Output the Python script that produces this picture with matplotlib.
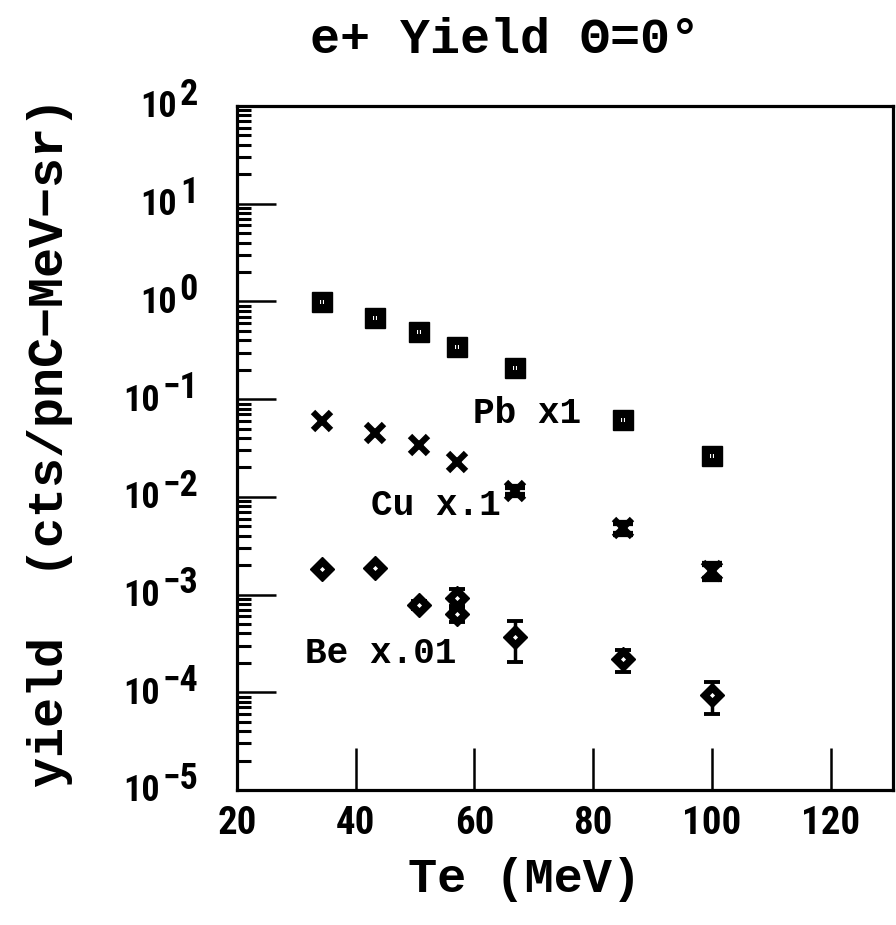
import numpy as np
import matplotlib
matplotlib.use("Agg")
import matplotlib.pyplot as plt
import matplotlib.font_manager as fm
import matplotlib.transforms as mtransforms
from matplotlib.ticker import LogLocator, NullFormatter

# data (yields already scaled as labelled)
te = [34.3, 43.3, 50.7, 57.0, 66.8, 85.1, 100.1]
pb = [0.98, 0.68, 0.49, 0.34, 0.21, 0.061, 0.026]
pb_err = [0.03, 0.02, 0.015, 0.01, 0.007, 0.002, 0.001]
cu = [0.060, 0.045, 0.034, 0.0225, 0.0115, 0.0048, 0.00175]
cu_err = [np.nan, np.nan, np.nan, np.nan, 0.0011, 0.0006, 0.00030]
be_te = [34.3, 43.3, 50.7, 57.0, 57.0, 66.8, 85.1, 100.1]
be = [0.00181, 0.00188, 0.00079, 0.00093, 0.00064, 0.00037, 0.000217, 0.000094]
be_err = [0.0001, 0.0001, 0.00008, 0.0002, 0.00012, 0.000165, 0.000055, 0.000034]

x_ticks = [20, 40, 60, 80, 100, 120]
y_exps = [-5, -4, -3, -2, -1, 0, 1, 2]

names = {f.name for f in fm.fontManager.ttflist}
narrow = "Liberation Sans"
stretch = "normal"
for cand in ["Liberation Sans Narrow", "Roboto Condensed", "Open Sans Condensed"]:
    if cand in names:
        narrow = cand
        break
else:
    if any(f.name == "DejaVu Sans" and f.stretch == "condensed" and f.weight in (700, "bold")
           for f in fm.fontManager.ttflist):
        narrow = "DejaVu Sans"
        stretch = "condensed"
mono = ["Liberation Mono", "DejaVu Sans Mono"]

fig = plt.figure(figsize=(8.96, 9.25), dpi=100)
ax = fig.add_axes([0.2645, 0.1459, 0.7321, 0.7395])

ax.set_yscale("log")
ax.set_xlim(20, 130.5)
ax.set_ylim(1e-5, 1e2)

# Pb squares
ax.errorbar(te, pb, yerr=pb_err, fmt="s", ms=14.5, mfc="k", mec="k", ecolor="k",
            elinewidth=2, capsize=5, capthick=2, zorder=3)
ax.plot(te, pb, ls="none", marker="s", ms=3.2, mfc="white", mew=0, zorder=4)
ax.plot(te, pb, ls="none", marker="|", ms=4, mec="k", mew=1.3, zorder=5)

# Cu crosses
ax.errorbar(te, cu, yerr=cu_err, fmt="x", ms=13, mew=4.5, color="k",
            elinewidth=2, capsize=7, capthick=3, zorder=3)

# Be diamonds
ax.errorbar(be_te, be, yerr=be_err, fmt="D", ms=12, color="k",
            elinewidth=2.5, capsize=6, capthick=2.8, zorder=3)
ax.plot(be_te, be, ls="none", marker="D", ms=2.6, mfc="white", mew=0, zorder=4)

ann_kw = dict(fontfamily=mono, fontweight="bold", fontsize=26, va="center", ha="left")
ax.text(59.8, 0.0715, "Pb x1", **ann_kw)
ax.text(42.5, 0.0082, "Cu x.1", **ann_kw)
ax.text(31.4, 2.5e-4, "Be x.01", **ann_kw)

for s in ax.spines.values():
    s.set_linewidth(2.3)

ax.set_xticks(x_ticks)
ax.set_xticklabels([str(t) for t in x_ticks], fontfamily=narrow, fontstretch=stretch,
                   fontweight="bold", fontsize=28)
ax.tick_params(axis="x", which="major", direction="in", length=30, width=1.8, pad=11)
ax.tick_params(axis="x", which="minor", length=0)

ax.yaxis.set_major_locator(LogLocator(base=10, numticks=20))
ax.yaxis.set_minor_locator(LogLocator(base=10, subs=np.arange(2, 10), numticks=20))
ax.yaxis.set_major_formatter(NullFormatter())
ax.yaxis.set_minor_formatter(NullFormatter())
ax.tick_params(axis="y", which="major", direction="in", length=28, width=1.8)
ax.tick_params(axis="y", which="minor", direction="in", length=10, width=2.2)

# y tick labels: "10" with a large raised exponent, right aligned
blend = mtransforms.blended_transform_factory(ax.transAxes, ax.transData)
lab_kw = dict(fontfamily=narrow, fontstretch=stretch, fontweight="bold", fontsize=26)
for e in y_exps:
    ex = ax.annotate(str(e).replace("-", "\u2212"), xy=(0, 10.0 ** e), xycoords=blend,
                     xytext=(-28, 8), textcoords="offset points",
                     ha="right", va="center", annotation_clip=False, **lab_kw)
    ax.annotate("10", xy=(0, 0.5), xycoords=ex, xytext=(-2, -9),
                textcoords="offset points", ha="right", va="center",
                annotation_clip=False, **lab_kw)

fig.text(0.564, 0.957, "e+ Yield \u0398=0\u00b0", fontfamily=mono, fontweight="bold",
         fontsize=36, ha="center", va="center")
fig.text(0.585, 0.049, "Te (MeV)", fontfamily=mono, fontweight="bold", fontsize=35,
         ha="center", va="center")
fig.text(0.056, 0.522, "yield  (cts/pnC\u2212MeV\u2212sr)", fontfamily=mono,
         fontweight="bold", fontsize=36, rotation=90, ha="center", va="center")

fig.savefig("out.png", dpi=100)
